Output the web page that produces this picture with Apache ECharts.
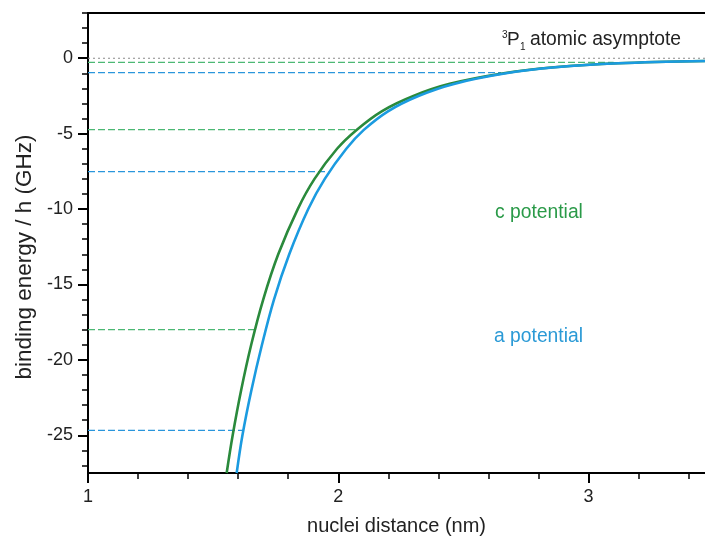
<!DOCTYPE html>
<html>
<head>
<meta charset="utf-8">
<script src="https://cdn.jsdelivr.net/npm/echarts@6/dist/echarts.min.js"></script>
<style>html,body{margin:0;padding:0;background:#fff}#c{width:705px;height:542px}</style>
</head>
<body>
<div id="c"></div>
<script>
// c potential curve (nm, GHz)
const cDist   = [1.554, 1.578, 1.612, 1.652, 1.700, 1.760, 1.838, 1.905, 1.995, 2.073, 2.175, 2.300, 2.445, 2.661, 2.862, 3.117, 3.465];
const cEnergy = [-27.5, -25.0, -22.0, -19.0, -16.0, -13.0, -10.0, -8.0, -6.0, -4.75, -3.5, -2.5, -1.7, -1.0, -0.6, -0.33, -0.18];
// a potential curve
const aDist   = [1.594, 1.617, 1.653, 1.695, 1.743, 1.804, 1.880, 1.946, 2.032, 2.102, 2.200, 2.320, 2.462, 2.670, 2.868, 3.120, 3.465];
const aEnergy = [-27.5, -25.0, -22.0, -19.0, -16.0, -13.0, -10.0, -8.0, -6.0, -4.75, -3.5, -2.5, -1.7, -1.0, -0.6, -0.33, -0.18];
// bound state levels (energy, outer turning point)
const cLevels = [-0.27, -4.73, -18.0];
const cLevelEnd = [3.10, 2.07, 1.667];
const aLevels = [-0.95, -7.52, -24.67];
const aLevelEnd = [2.65, 1.96, 1.62];
const asymptote = 0;
const xMajor = [1, 2, 3];
const xMinor = [1.2, 1.4, 1.6, 1.8, 2.2, 2.4, 2.6, 2.8, 3.2, 3.4];
const yMajor = [0, -5, -10, -15, -20, -25];
const yMinor = [3, 2, 1, -1, -2, -3, -4, -6, -7, -8, -9, -11, -12, -13, -14, -16, -17, -18, -19, -21, -22, -23, -24, -26, -27];

const X_MIN = 1, X_MAX = 3.465, Y_MIN = -27.5, Y_MAX = 3;
const FONT = 'Liberation Sans, Arial, sans-serif';
const GREEN = '#2a8a3c', BLUE = '#1b9be0';
const GREEN_D = '#4cb874', BLUE_D = '#2a96dc';

const zip = (a, b) => a.map((v, i) => [v, b[i]]);

const series = [];
series.push({
  type: 'line', xAxisIndex: 0, yAxisIndex: 0, symbol: 'none', silent: true,
  data: [[X_MIN, asymptote], [X_MAX, asymptote]],
  lineStyle: { color: '#8a8a8a', width: 1.2, type: [2, 3] }, z: 2
});
cLevels.forEach((e, i) => series.push({
  type: 'line', xAxisIndex: 0, yAxisIndex: 0, symbol: 'none', silent: true,
  data: [[X_MIN, e], [cLevelEnd[i], e]],
  lineStyle: { color: GREEN_D, width: 1.2, type: [7, 3] }, z: 2
}));
aLevels.forEach((e, i) => series.push({
  type: 'line', xAxisIndex: 0, yAxisIndex: 0, symbol: 'none', silent: true,
  data: [[X_MIN, e], [aLevelEnd[i], e]],
  lineStyle: { color: BLUE_D, width: 1.2, type: [7, 3] }, z: 2
}));
series.push({
  type: 'line', xAxisIndex: 0, yAxisIndex: 0, symbol: 'none', smooth: 0.35, silent: true,
  data: zip(cDist, cEnergy), lineStyle: { color: GREEN, width: 2.6 }, z: 3
});
series.push({
  type: 'line', xAxisIndex: 0, yAxisIndex: 0, symbol: 'none', smooth: 0.35, silent: true,
  data: zip(aDist, aEnergy), lineStyle: { color: BLUE, width: 2.6 }, z: 4
});

const axisLineStyle = { color: '#000', width: 2 };
const option = {
  animation: false,
  backgroundColor: '#fff',
  grid: { left: 88, top: 13, right: 0, bottom: 69, containLabel: false },
  xAxis: [
    {
      type: 'value', min: X_MIN, max: X_MAX, position: 'bottom',
      axisLine: { show: true, onZero: false, lineStyle: axisLineStyle },
      axisTick: { show: true, length: 10, customValues: xMajor, lineStyle: { color: '#000', width: 2 } },
      axisLabel: { show: true, customValues: xMajor, fontFamily: FONT, fontSize: 18, color: '#222', margin: 15,
        formatter: v => String(v) },
      splitLine: { show: false },
      name: 'nuclei distance (nm)', nameLocation: 'middle', nameGap: 43,
      nameTextStyle: { fontFamily: FONT, fontSize: 20, color: '#222' }
    },
    {
      type: 'value', min: X_MIN, max: X_MAX, position: 'bottom',
      axisLine: { show: false, onZero: false },
      axisTick: { show: true, length: 6, customValues: xMinor, lineStyle: { color: '#000', width: 1.5 } },
      axisLabel: { show: false }, splitLine: { show: false }
    },
    {
      type: 'value', min: X_MIN, max: X_MAX, position: 'top',
      axisLine: { show: true, onZero: false, lineStyle: axisLineStyle },
      axisTick: { show: false }, axisLabel: { show: false }, splitLine: { show: false }
    }
  ],
  yAxis: [
    {
      type: 'value', min: Y_MIN, max: Y_MAX, position: 'left',
      axisLine: { show: true, onZero: false, lineStyle: axisLineStyle },
      axisTick: { show: true, length: 10, customValues: yMajor, lineStyle: { color: '#000', width: 2 } },
      axisLabel: { show: true, customValues: yMajor, fontFamily: FONT, fontSize: 18, color: '#222', margin: 15,
        formatter: v => String(v) },
      splitLine: { show: false }
    },
    {
      type: 'value', min: Y_MIN, max: Y_MAX, position: 'left',
      axisLine: { show: false, onZero: false },
      axisTick: { show: true, length: 6, customValues: yMinor, lineStyle: { color: '#000', width: 1.5 } },
      axisLabel: { show: false }, splitLine: { show: false }
    }
  ],
  series: series,
  graphic: [
    { type: 'text', x: 25, y: 257, rotation: Math.PI / 2,
      style: { text: 'binding energy / h (GHz)', fontFamily: FONT, fontSize: 22.5, fill: '#222', align: 'center', verticalAlign: 'middle' } },
    { type: 'text', left: 502, top: 30, style: { text: '3', fontFamily: FONT, fontSize: 10, fill: '#222' } },
    { type: 'text', left: 507, top: 30, style: { text: 'P', fontFamily: FONT, fontSize: 19, fill: '#222' } },
    { type: 'text', left: 520, top: 42, style: { text: '1', fontFamily: FONT, fontSize: 10, fill: '#222' } },
    { type: 'text', left: 530, top: 30, style: { text: 'atomic asymptote', fontFamily: FONT, fontSize: 19.3, fill: '#222' } },
    { type: 'text', left: 495, top: 203, style: { text: 'c potential', fontFamily: FONT, fontSize: 19.3, fill: '#2a9a48' } },
    { type: 'text', left: 494, top: 327, style: { text: 'a potential', fontFamily: FONT, fontSize: 19.3, fill: '#2b9ad6' } }
  ]
};
const chart = echarts.init(document.getElementById('c'), null, { renderer: 'canvas' });
chart.setOption(option);
</script>
</body>
</html>
